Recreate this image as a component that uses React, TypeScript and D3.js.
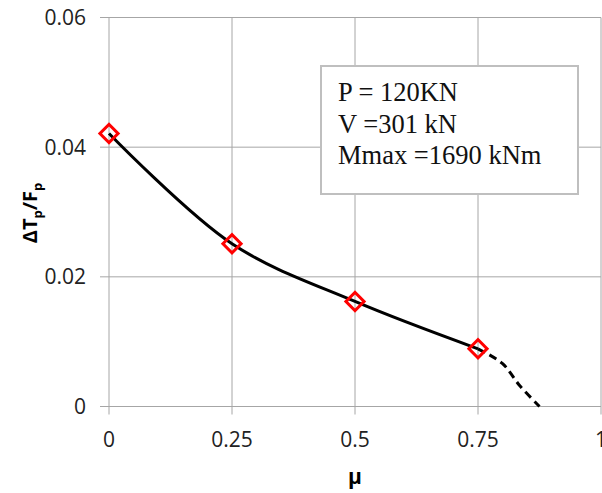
import React from "react";
import * as d3 from "d3";

const muValues = [0, 0.25, 0.5, 0.75];
const ratioValues = [0.0421, 0.0251, 0.0162, 0.0089];
const extMu = [0.75, 0.8, 0.835, 0.875];
const extRatio = [0.0089, 0.0066, 0.0032, 0];
const xTicks = [0, 0.25, 0.5, 0.75, 1];
const xTickLabels = ["0", "0.25", "0.5", "0.75", "1"];
const yTicks = [0, 0.02, 0.04, 0.06];
const yTickLabels = ["0", "0.02", "0.04", "0.06"];
const boxLines = ["P = 120KN", "V =301 kN", "Mmax =1690 kNm"];

export default function App() {
  const W = 602, H = 493;
  const x = d3.scaleLinear().domain([0, 1]).range([109, 601]);
  const y = d3.scaleLinear().domain([0, 0.06]).range([406.5, 17.5]);
  const solid = muValues.map((m, i) => [m, ratioValues[i]] as [number, number]);
  const ext = extMu.map((m, i) => [m, extRatio[i]] as [number, number]);
  const line = d3.line<[number, number]>().x(d => x(d[0])).y(d => y(d[1])).curve(d3.curveCatmullRom.alpha(0.5));
  const grid = "#a6a6a6";
  const tickFont = "'Open Sans', sans-serif";
  return (
    <svg width={W} height={H} style={{ position: "absolute", left: 0, top: 0, background: "#fff" }}>
      {xTicks.map((t, i) => (
        <line key={"gx" + i} x1={x(t)} x2={x(t)} y1={y(0.06)} y2={y(0) + 8} stroke={grid} strokeWidth={1} />
      ))}
      {yTicks.map((t, i) => (
        <line key={"gy" + i} x1={x(0) - 9} x2={x(1)} y1={y(t)} y2={y(t)} stroke={grid} strokeWidth={1} />
      ))}
      {xTicks.map((t, i) => (
        <text key={"xl" + i} x={x(t)} y={447} textAnchor="middle" fontFamily={tickFont} fontSize={21} fill="#222">{xTickLabels[i]}</text>
      ))}
      {yTicks.map((t, i) => (
        <text key={"yl" + i} x={86} y={y(t)} dy="0.36em" textAnchor="end" fontFamily={tickFont} fontSize={21} fill="#222">{yTickLabels[i]}</text>
      ))}
      <path d={line(solid) || ""} fill="none" stroke="#000" strokeWidth={3} />
      <path d={line(ext) || ""} fill="none" stroke="#000" strokeWidth={3} strokeDasharray="8,5" />
      {solid.map((d, i) => (
        <path key={"m" + i} d={d3.symbol(d3.symbolSquare, 165)() || ""} transform={`translate(${x(d[0])},${y(d[1])}) rotate(45)`} fill="none" stroke="#ff0000" strokeWidth={3} />
      ))}
      <rect x={321} y={66} width={257} height={128} fill="#fff" stroke="#bfbfbf" strokeWidth={2} />
      {boxLines.map((s, i) => (
        <text key={"b" + i} x={338} y={101 + i * 31.5} fontFamily="'Liberation Serif', 'Times New Roman', serif" fontSize={26.5} fill="#111">{s}</text>
      ))}
      <text x={355} y={484} textAnchor="middle" fontFamily={tickFont} fontWeight="bold" fontSize={21}>μ</text>
      <text transform={`translate(37,213) rotate(-90)`} textAnchor="middle" fontFamily={tickFont} fontWeight="bold" fontSize={20}>
        ΔT<tspan fontSize={13} dy={5}>p</tspan><tspan dy={-5}>/F</tspan><tspan fontSize={13} dy={5}>p</tspan>
      </text>
    </svg>
  );
}
